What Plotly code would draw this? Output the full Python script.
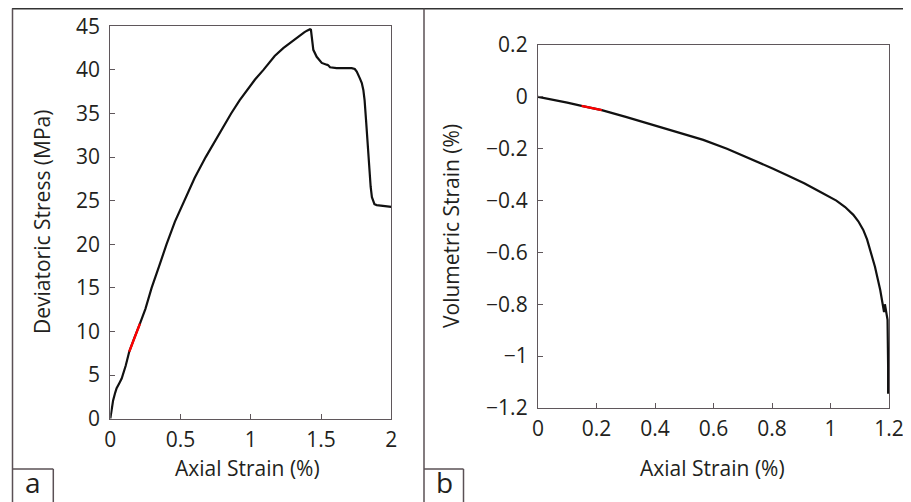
import plotly.graph_objects as go

# ---------------- data ----------------
# Panel a: deviatoric stress vs axial strain
strain_a = [0, 0.005, 0.01, 0.02, 0.035, 0.045, 0.065, 0.081, 0.11, 0.135, 0.17, 0.192, 0.211,
            0.25, 0.294, 0.35, 0.40, 0.46, 0.527, 0.60, 0.679, 0.77, 0.86, 0.92, 0.97, 1.03, 1.09,
            1.13, 1.17, 1.231, 1.279, 1.32, 1.35, 1.38, 1.40, 1.421, 1.428, 1.433, 1.445, 1.469,
            1.49, 1.505, 1.540, 1.55, 1.564, 1.611, 1.66, 1.718, 1.740, 1.754, 1.777, 1.79,
            1.801, 1.81, 1.82, 1.836, 1.853, 1.862, 1.872, 1.88, 1.896, 1.95, 2.0]
stress_a = [0, 0.6, 1.2, 2.1, 3.0, 3.5, 4.1, 4.6, 6.1, 7.7, 9.2, 10.0, 10.9,
            12.6, 15.0, 17.6, 20.0, 22.6, 25.0, 27.6, 30.0, 32.6, 35.0, 36.5, 37.6, 38.9, 40.0,
            40.8, 41.6, 42.5, 43.1, 43.6, 44.0, 44.3, 44.5, 44.66, 44.6, 43.8, 42.3, 41.5,
            41.1, 40.8, 40.6, 40.55, 40.3, 40.2, 40.2, 40.2, 40.1, 39.8, 39.0, 38.5,
            37.7, 36.5, 34.3, 30.4, 26.6, 25.4, 24.9, 24.6, 24.5, 24.4, 24.3]
red_strain_a = [0.135, 0.17, 0.192, 0.211]
red_stress_a = [7.7, 9.2, 10.0, 10.9]

# Panel b: volumetric strain vs axial strain
strain_b = [0, 0.05, 0.10, 0.149, 0.218, 0.30, 0.394, 0.48, 0.565, 0.646, 0.736, 0.80,
            0.850, 0.91, 0.964, 0.99, 1.02, 1.05, 1.078, 1.095, 1.112, 1.125, 1.135, 1.152,
            1.170, 1.180, 1.183, 1.186, 1.192, 1.195, 1.197, 1.197]
vol_b = [0, -0.010, -0.022, -0.035, -0.051, -0.077, -0.108, -0.136, -0.166, -0.200,
         -0.243, -0.275, -0.301, -0.333, -0.366, -0.382, -0.400, -0.425, -0.455, -0.480,
         -0.513, -0.550, -0.590, -0.655, -0.745, -0.815, -0.830, -0.800, -0.835, -0.860,
         -1.04, -1.145]
red_strain_b = [0.149, 0.218]
red_vol_b = [-0.035, -0.051]

ticks_a_x = [0, 0.5, 1, 1.5, 2]
ticks_a_y = [0, 5, 10, 15, 20, 25, 30, 35, 40, 45]
ticks_b_x = [0, 0.2, 0.4, 0.6, 0.8, 1, 1.2]
ticks_b_y = [0.2, 0, -0.2, -0.4, -0.6, -0.8, -1, -1.2]

x_title = "Axial Strain (%)"
y_title_a = "Deviatoric Stress (MPa)"
y_title_b = "Volumetric Strain (%)"
panel_labels = ["a", "b"]

# ---------------- layout helpers ----------------
# the page body has an 8px default margin, so the figure is drawn 8px in
PAGE_W, PAGE_H = 911, 502
OFF = 8
W, H = PAGE_W - OFF, PAGE_H - OFF
def px(x):  # page pixel -> paper fraction
    return (x - OFF) / W
def py(y):
    return 1 - (y - OFF) / H

FONT = "Open Sans"
TXT = "#231f20"
AXC = "#5f575b"
FRAME = "#5a5055"

fig = go.Figure()
fig.add_trace(go.Scatter(x=strain_a, y=stress_a, mode="lines",
                         line=dict(color="#111111", width=2.2), xaxis="x", yaxis="y",
                         showlegend=False, hoverinfo="skip"))
fig.add_trace(go.Scatter(x=red_strain_a, y=red_stress_a, mode="lines",
                         line=dict(color="#ff0000", width=2.4), xaxis="x", yaxis="y",
                         showlegend=False, hoverinfo="skip"))
fig.add_trace(go.Scatter(x=strain_b, y=vol_b, mode="lines",
                         line=dict(color="#111111", width=2.2), xaxis="x2", yaxis="y2",
                         showlegend=False, hoverinfo="skip"))
fig.add_trace(go.Scatter(x=red_strain_b, y=red_vol_b, mode="lines",
                         line=dict(color="#ff0000", width=2.4), xaxis="x2", yaxis="y2",
                         showlegend=False, hoverinfo="skip"))

axis_common = dict(showgrid=False, zeroline=False, showline=True, mirror=True,
                   linecolor=AXC, linewidth=1.3, ticks="inside", ticklen=5,
                   tickcolor=AXC, tickwidth=1, automargin=False,
                   tickfont=dict(family=FONT, size=21, color=TXT))

fig.update_layout(
    template="none",
    width=W, height=H,
    margin=dict(l=0, r=0, t=0, b=0, pad=0, autoexpand=False),
    paper_bgcolor="white", plot_bgcolor="white",
    xaxis=dict(domain=[px(110.3), px(391.3)], range=[0, 2], tickvals=ticks_a_x,
               anchor="y", ticklabelstandoff=2, **axis_common),
    yaxis=dict(domain=[py(418.7), py(26.3)], range=[0, 45], tickvals=ticks_a_y,
               anchor="x", ticklabelstandoff=5, **axis_common),
    xaxis2=dict(domain=[px(538), px(889)], range=[0, 1.2], tickvals=ticks_b_x,
                anchor="y2", ticklabelstandoff=2, **axis_common),
    yaxis2=dict(domain=[py(408), py(45)], range=[-1.2, 0.2], tickvals=ticks_b_y,
                anchor="x2", ticklabelstandoff=5, **axis_common),
)

ann = []
ann.append(dict(text=x_title, x=px(247), y=py(468), xref="paper", yref="paper",
                showarrow=False, font=dict(family=FONT, size=21, color=TXT),
                xanchor="center", yanchor="middle"))
ann.append(dict(text=x_title, x=px(712.5), y=py(468), xref="paper", yref="paper",
                showarrow=False, font=dict(family=FONT, size=21, color=TXT),
                xanchor="center", yanchor="middle"))
ann.append(dict(text=y_title_a, x=px(42), y=py(222), xref="paper", yref="paper",
                showarrow=False, textangle=-90, font=dict(family=FONT, size=21, color=TXT),
                xanchor="center", yanchor="middle"))
ann.append(dict(text=y_title_b, x=px(451), y=py(226), xref="paper", yref="paper",
                showarrow=False, textangle=-90, font=dict(family=FONT, size=21, color=TXT),
                xanchor="center", yanchor="middle"))
ann.append(dict(text=panel_labels[0], x=px(33), y=py(502), xref="paper", yref="paper",
                showarrow=False, font=dict(family=FONT, size=28, color=TXT),
                xanchor="center", yanchor="bottom", borderpad=0))
ann.append(dict(text=panel_labels[1], x=px(444), y=py(502), xref="paper", yref="paper",
                showarrow=False, font=dict(family=FONT, size=28, color=TXT),
                xanchor="center", yanchor="bottom", borderpad=0))
fig.update_layout(annotations=ann)

shapes = []
def line(x0, y0, x1, y1, w=1.5, c=FRAME):
    shapes.append(dict(type="line", xref="paper", yref="paper",
                       x0=px(x0), y0=py(y0), x1=px(x1), y1=py(y1),
                       line=dict(color=c, width=w)))
line(12, 8.5, 911, 8.5, w=2, c="#333333")
line(12.5, 8.5, 12.5, 502)
line(424, 8.5, 424, 502)
# label boxes
line(12.5, 469, 53.3, 469)
line(53.3, 469, 53.3, 502)
line(424, 469, 463.5, 469)
line(463.5, 469, 463.5, 502)
fig.update_layout(shapes=shapes)

fig.write_html("out.html")
